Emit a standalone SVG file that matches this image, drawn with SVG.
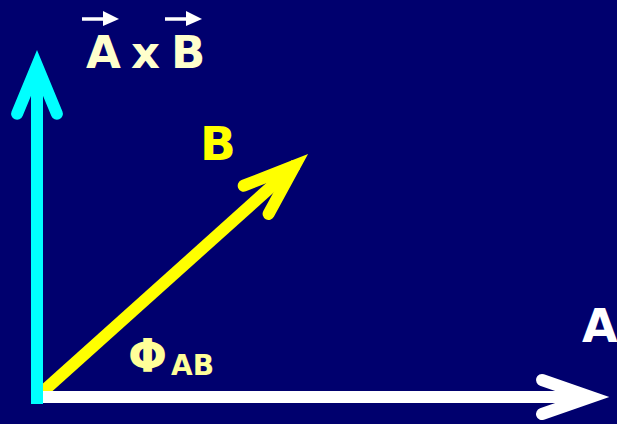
<svg xmlns="http://www.w3.org/2000/svg" width="617" height="424" viewBox="0 0 617 424">
<style>
.ln{fill:none;stroke-width:12;stroke-linejoin:miter;stroke-miterlimit:10}
.hd{stroke-linecap:round}
.t{font-family:"DejaVu Sans","Liberation Sans",sans-serif;font-weight:bold}
</style>
<rect width="617" height="424" fill="#00006E"/>
<g id="connectors">
  <g id="vecB">
    <line class="ln" x1="38" y1="396" x2="296" y2="164.5" stroke="#FFFF00"/>
    <polyline class="ln hd" points="243.7,185.7 294.9,165.6 268.6,213.9" stroke="#FFFF00"/>
  </g>
  <g id="vecAxB">
    <line class="ln" x1="37" y1="404" x2="37" y2="70" stroke="#00FFFF"/>
    <polyline class="ln hd" points="17.1,113.7 37,65.7 56.9,113.7" stroke="#00FFFF"/>
  </g>
  <g id="vecA">
    <line class="ln" x1="43" y1="397" x2="592" y2="397" stroke="#FFFFFF"/>
    <polyline class="ln hd" points="542,380 591,397 542,414" stroke="#FFFFFF"/>
  </g>
</g>
<g id="labelAxB">
  <text class="t" y="68" font-size="45" fill="#FFFFCC"><tspan x="86">A</tspan><tspan x="131">x</tspan><tspan x="171">B</tspan></text>
  <path d="M82,19 H104 M165,19 H187" stroke="#FFFFFF" stroke-width="3.5"/>
  <polygon points="103,11 119,19 103,26" fill="#FFFFFF"/>
  <polygon points="186,11 202,19 186,26" fill="#FFFFFF"/>
</g>
<g id="labelB">
  <text class="t" x="200" y="160" font-size="47" fill="#FFFF00">B</text>
</g>
<g id="labelA">
  <text class="t" x="582" y="342" font-size="46" fill="#FFFFFF">A</text>
</g>
<g id="labelPhi">
  <text class="t" x="128" y="372" font-size="46" fill="#FFFF99">Φ<tspan font-size="28" dx="4" dy="3">AB</tspan></text>
</g>
</svg>
